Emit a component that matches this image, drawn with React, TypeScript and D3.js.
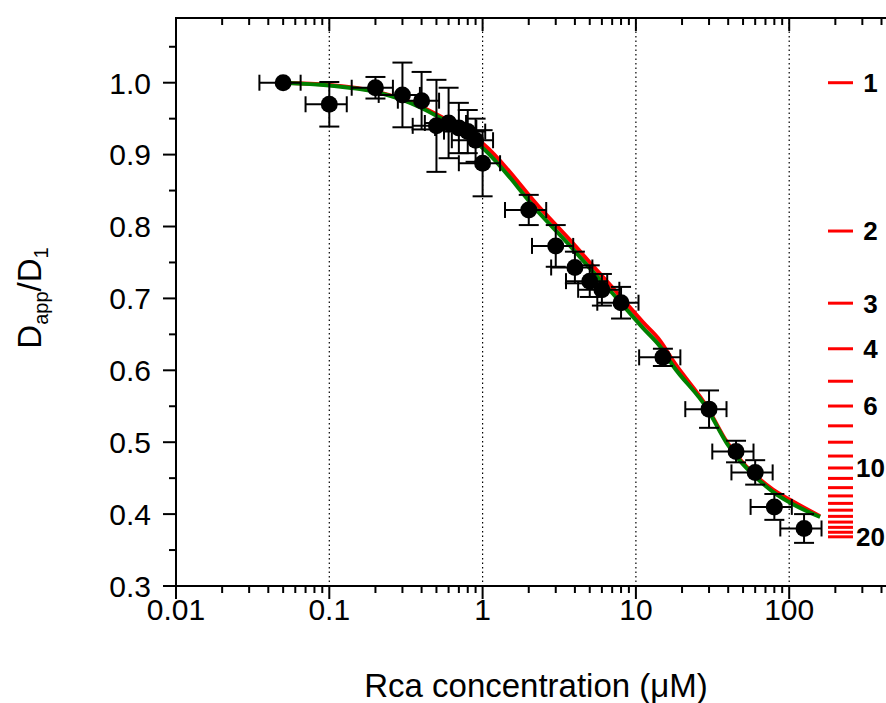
import React from "react";
import * as d3 from "d3";

// ---- data ----
const concentrations = [0.05, 0.1, 0.2, 0.3, 0.4, 0.5, 0.6, 0.7, 0.8, 0.9, 1, 2, 3, 4, 5, 6, 8, 15, 30, 45, 60, 80, 125];
const dRatio = [1.0, 0.97, 0.993, 0.983, 0.975, 0.94, 0.944, 0.937, 0.932, 0.92, 0.888, 0.823, 0.773, 0.743, 0.724, 0.712, 0.694, 0.618, 0.546, 0.487, 0.458, 0.41, 0.38];
const dRatioErr = [0, 0.031, 0.015, 0.045, 0.04, 0.064, 0.049, 0.035, 0.03, 0.03, 0.046, 0.021, 0.029, 0.022, 0.022, 0.022, 0.022, 0.012, 0.026, 0.015, 0.017, 0.018, 0.02];
const concErr = [0.015, 0.03, 0.06, 0.09, 0.12, 0.15, 0.18, 0.21, 0.24, 0.27, 0.3, 0.6, 0.9, 1.2, 1.5, 1.8, 2.4, 4.5, 9, 13.5, 18, 24, 37.5];

const redFitX = [0.05, 0.1, 0.2, 0.3, 0.5, 0.68, 1.006, 2.43, 3.72, 5.25, 6.78, 8.75, 11.1, 14.4, 17.5, 29.1, 39.3, 47.8, 58.1, 78.4, 101, 159];
const redFitY = [1.0, 0.997, 0.988, 0.977, 0.956, 0.94, 0.915, 0.823, 0.781, 0.745, 0.719, 0.692, 0.667, 0.641, 0.613, 0.549, 0.5, 0.476, 0.457, 0.434, 0.42, 0.397];
const greenFitX = [0.05, 0.1, 0.2, 0.3, 0.5, 0.68, 1.006, 2.43, 3.72, 5.25, 6.78, 8.75, 11.1, 14.4, 17.5, 29.1, 39.3, 47.8, 58.1, 78.4, 101, 159];
const greenFitY = [1.0, 0.996, 0.987, 0.976, 0.954, 0.937, 0.909, 0.815, 0.773, 0.737, 0.711, 0.684, 0.659, 0.633, 0.606, 0.547, 0.498, 0.474, 0.455, 0.431, 0.416, 0.396];

const xTickValues = [0.01, 0.1, 1, 10, 100, 1000];
const xTickLabels = ["0.01", "0.1", "1", "10", "100", ""];
const yTickValues = [0.3, 0.4, 0.5, 0.6, 0.7, 0.8, 0.9, 1.0];
const yMinorValues = [0.35, 0.45, 0.55, 0.65, 0.75, 0.85, 0.95, 1.05];
const gridValues = [0.1, 1, 10, 100];
const oligomerN = [1, 2, 3, 4, 5, 6, 7, 8, 9, 10, 11, 12, 13, 14, 15, 16, 17, 18, 19, 20];
const oligomerLabels = [1, 2, 3, 4, 6, 10, 20];

const FONT = "'Liberation Sans', Arial, sans-serif";

export default function App() {
  const L = 176, T = 18, B = 586;
  const x = d3.scaleLog().domain([0.01, 1000]).range([L, L + 5 * 153.3]);
  const y = d3.scaleLinear().domain([0.3, 1.09]).range([B, T]);
  // secondary oligomer scale: D ~ n^(-1/3)
  const nScale = (n: number) => y(Math.pow(n, -1 / 3));

  const minorX: number[] = [];
  for (let d = -2; d < 3; d++) for (let m = 2; m <= 9; m++) minorX.push(m * Math.pow(10, d));

  const line = d3
    .line<[number, number]>()
    .x((d) => x(d[0]))
    .y((d) => y(d[1]))
    .curve(d3.curveMonotoneX);

  const redPath = line(redFitX.map((v, i) => [v, redFitY[i]]));
  const greenPath = line(greenFitX.map((v, i) => [v, greenFitY[i]]));

  const right = 960;
  const majLen = 13, minLen = 7;

  return (
    <svg width={886} height={703} style={{ position: "absolute", left: 0, top: 0 }} fontFamily={FONT}>
      <rect width={886} height={703} fill="#fff" />
      {/* grid */}
      {gridValues.map((g) => (
        <line key={"g" + g} x1={x(g)} x2={x(g)} y1={T} y2={B} stroke="#000" strokeWidth={1.2} strokeDasharray="1.5,3" />
      ))}
      {/* axes frame */}
      <line x1={L} x2={right} y1={T} y2={T} stroke="#000" strokeWidth={2} />
      <line x1={L} x2={right} y1={B} y2={B} stroke="#000" strokeWidth={2} />
      <line x1={L} x2={L} y1={T - 1} y2={B + 1} stroke="#000" strokeWidth={2} />
      {/* x ticks bottom (outward) and top (inward) */}
      {xTickValues.map((v) => (
        <g key={"xt" + v}>
          <line x1={x(v)} x2={x(v)} y1={B} y2={B + majLen} stroke="#000" strokeWidth={2} />
          <line x1={x(v)} x2={x(v)} y1={T} y2={T + majLen} stroke="#000" strokeWidth={2} />
        </g>
      ))}
      {minorX.map((v) => (
        <g key={"xm" + v}>
          <line x1={x(v)} x2={x(v)} y1={B} y2={B + minLen} stroke="#000" strokeWidth={2} />
          <line x1={x(v)} x2={x(v)} y1={T} y2={T + minLen} stroke="#000" strokeWidth={2} />
        </g>
      ))}
      {xTickValues.map((v, i) =>
        xTickLabels[i] ? (
          <text key={"xl" + v} x={x(v)} y={620} textAnchor="middle" fontSize={30} fill="#000">
            {xTickLabels[i]}
          </text>
        ) : null
      )}
      {/* y ticks */}
      {yTickValues.map((v) => (
        <g key={"yt" + v}>
          <line x1={L - majLen} x2={L} y1={y(v)} y2={y(v)} stroke="#000" strokeWidth={2} />
          <text x={151} y={y(v)} dy="0.36em" textAnchor="end" fontSize={30} fill="#000">
            {v.toFixed(1)}
          </text>
        </g>
      ))}
      {yMinorValues.map((v) => (
        <line key={"ym" + v} x1={L - minLen} x2={L} y1={y(v)} y2={y(v)} stroke="#000" strokeWidth={2} />
      ))}
      {/* oligomer scale */}
      {oligomerN.map((n) => (
        <line key={"n" + n} x1={828} x2={853} y1={nScale(n)} y2={nScale(n)} stroke="#ff0000" strokeWidth={3} />
      ))}
      {oligomerLabels.map((n) => (
        <text key={"nl" + n} x={870.5} y={nScale(n)} dy="0.36em" textAnchor="middle" fontSize={26} fontWeight="bold" fill="#000">
          {n}
        </text>
      ))}
      {/* fits */}
      <path d={redPath || ""} fill="none" stroke="#ff0000" strokeWidth={4} />
      <path d={greenPath || ""} fill="none" stroke="#008000" strokeWidth={4} />
      {/* error bars and points */}
      {concentrations.map((c, i) => {
        const cx = x(c), cy = y(dRatio[i]);
        const xl = x(c - concErr[i]), xr = x(c + concErr[i]);
        const yt = y(dRatio[i] + dRatioErr[i]), yb = y(dRatio[i] - dRatioErr[i]);
        return (
          <g key={"p" + i} stroke="#000" strokeWidth={2}>
            <line x1={xl} x2={xr} y1={cy} y2={cy} />
            <line x1={xl} x2={xl} y1={cy - 8} y2={cy + 8} />
            <line x1={xr} x2={xr} y1={cy - 8} y2={cy + 8} />
            {dRatioErr[i] > 0 && (
              <>
                <line x1={cx} x2={cx} y1={yt} y2={yb} />
                <line x1={cx - 10} x2={cx + 10} y1={yt} y2={yt} />
                <line x1={cx - 10} x2={cx + 10} y1={yb} y2={yb} />
              </>
            )}
          </g>
        );
      })}
      {concentrations.map((c, i) => (
        <circle key={"c" + i} cx={x(c)} cy={y(dRatio[i])} r={8.5} fill="#000" />
      ))}
      {/* titles */}
      <text x={536} y={697} textAnchor="middle" fontSize={33} fill="#000">
        Rca concentration (μM)
      </text>
      <text transform="translate(41,298) rotate(-90)" textAnchor="middle" fontSize={33} fill="#000">
        D<tspan fontSize={20} dy={7}>app</tspan>
        <tspan dy={-7}>/D</tspan>
        <tspan fontSize={20} dy={7}>1</tspan>
      </text>
    </svg>
  );
}
